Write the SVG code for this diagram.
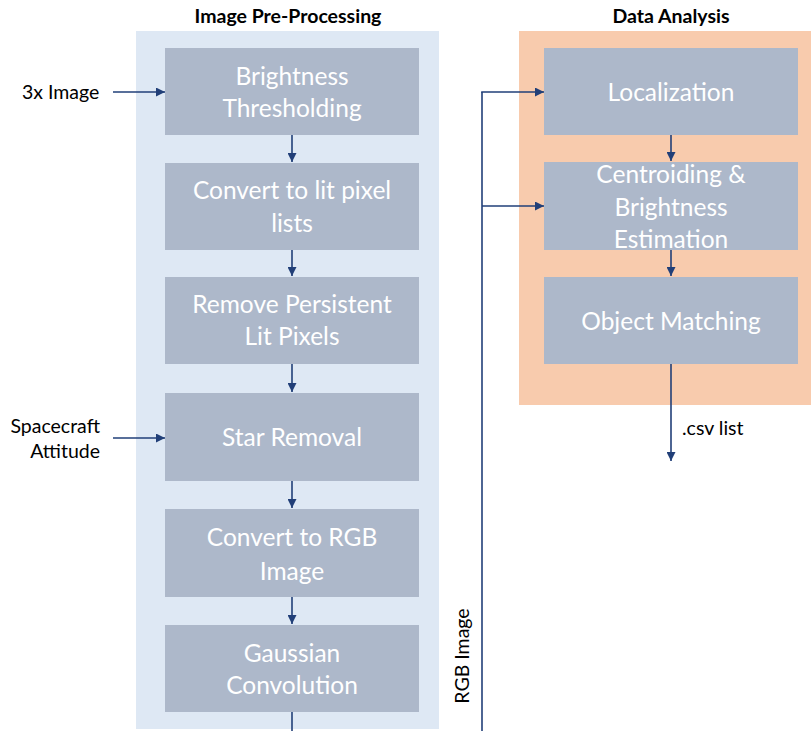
<svg xmlns="http://www.w3.org/2000/svg" width="811" height="731" viewBox="0 0 811 731">
  <defs>
    <marker id="arrow" viewBox="0 0 10 10" refX="10" refY="5" markerWidth="9" markerHeight="9" markerUnits="userSpaceOnUse" orient="auto">
      <path d="M0,0 L10,5 L0,10 z" fill="#213f78"/>
    </marker>
    <style>
      .panel-pre { fill: #dee8f4; }
      .panel-ana { fill: #f8cbad; }
      .box { fill: #adb8ca; }
      .box-text { font-family: Lato, "Liberation Sans", sans-serif; font-size: 24.5px; fill: #ffffff; text-anchor: middle; }
      .title { font-family: Lato, "Liberation Sans", sans-serif; font-size: 19.5px; font-weight: bold; fill: #000000; text-anchor: middle; }
      .label { font-family: Lato, "Liberation Sans", sans-serif; font-size: 19.5px; fill: #000000; }
      .conn { stroke: #213f78; stroke-width: 1.6; fill: none; }
      .arr { marker-end: url(#arrow); }
    </style>
  </defs>

  <rect width="811" height="731" fill="#ffffff"/>

  <!-- Section panels -->
  <rect class="panel-pre" x="136" y="31" width="303" height="698"/>
  <rect class="panel-ana" x="519" y="31" width="292" height="374"/>
  <text class="title" x="288" y="23">Image Pre-Processing</text>
  <text class="title" x="671" y="23">Data Analysis</text>

  <!-- Pre-processing steps -->
  <g id="brightness-thresholding">
    <rect class="box" x="165" y="48" width="254" height="87"/>
    <text class="box-text" x="292" y="85">Brightness</text>
    <text class="box-text" x="292" y="117">Thresholding</text>
  </g>
  <g id="lit-pixel-lists">
    <rect class="box" x="165" y="163" width="254" height="87"/>
    <text class="box-text" x="292" y="199">Convert to lit pixel</text>
    <text class="box-text" x="292" y="232">lists</text>
  </g>
  <g id="persistent-pixels">
    <rect class="box" x="165" y="277" width="254" height="87"/>
    <text class="box-text" x="292" y="313">Remove Persistent</text>
    <text class="box-text" x="292" y="345">Lit Pixels</text>
  </g>
  <g id="star-removal">
    <rect class="box" x="165" y="393" width="254" height="88"/>
    <text class="box-text" x="292" y="446">Star Removal</text>
  </g>
  <g id="rgb-image">
    <rect class="box" x="165" y="509" width="254" height="88"/>
    <text class="box-text" x="292" y="546">Convert to RGB</text>
    <text class="box-text" x="292" y="580">Image</text>
  </g>
  <g id="gaussian">
    <rect class="box" x="165" y="625" width="254" height="87"/>
    <text class="box-text" x="292" y="662">Gaussian</text>
    <text class="box-text" x="292" y="694">Convolution</text>
  </g>

  <!-- Analysis steps -->
  <g id="localization">
    <rect class="box" x="544" y="48" width="254" height="87"/>
    <text class="box-text" x="671" y="101">Localization</text>
  </g>
  <g id="centroiding">
    <rect class="box" x="544" y="162" width="254" height="88"/>
    <text class="box-text" x="671" y="183">Centroiding &amp;</text>
    <text class="box-text" x="671" y="216">Brightness</text>
    <text class="box-text" x="671" y="248">Estimation</text>
  </g>
  <g id="object-matching">
    <rect class="box" x="544" y="277" width="254" height="87"/>
    <text class="box-text" x="671" y="330">Object Matching</text>
  </g>

  <!-- Inputs and outputs -->
  <g id="input-image">
    <text class="label" x="22" y="99">3x Image</text>
  </g>
  <g id="input-attitude">
    <text class="label" x="100" y="433" text-anchor="end">Spacecraft</text>
    <text class="label" x="100" y="458" text-anchor="end">Attitude</text>
  </g>
  <g id="output-csv">
    <text class="label" x="682" y="435">.csv list</text>
  </g>
  <g id="rgb-label">
    <text class="label" transform="translate(469,656) rotate(-90)" text-anchor="middle">RGB Image</text>
  </g>

  <!-- Connectors -->
  <g id="connectors">
    <line class="conn arr" x1="113" y1="92" x2="165" y2="92"/>
    <line class="conn arr" x1="113" y1="438" x2="165" y2="438"/>
    <line class="conn arr" x1="292" y1="135" x2="292" y2="162"/>
    <line class="conn arr" x1="292" y1="250" x2="292" y2="276"/>
    <line class="conn arr" x1="292" y1="364" x2="292" y2="392"/>
    <line class="conn arr" x1="292" y1="481" x2="292" y2="508"/>
    <line class="conn arr" x1="292" y1="597" x2="292" y2="624"/>
    <line class="conn" x1="292" y1="712" x2="292" y2="731"/>
    <path class="conn" d="M482,731 L482,92"/>
    <line class="conn arr" x1="481.2" y1="92" x2="544" y2="92"/>
    <line class="conn arr" x1="482" y1="206" x2="544" y2="206"/>
    <line class="conn arr" x1="671" y1="135" x2="671" y2="161"/>
    <line class="conn arr" x1="671" y1="250" x2="671" y2="276"/>
    <line class="conn arr" x1="671" y1="364" x2="671" y2="461"/>
  </g>
</svg>
